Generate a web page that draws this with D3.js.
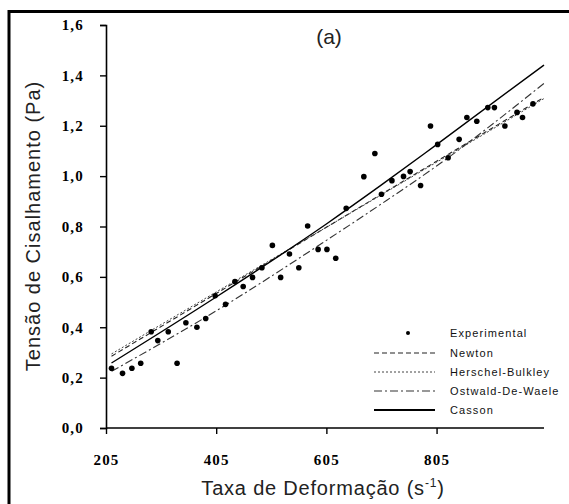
<!DOCTYPE html>
<html>
<head>
<meta charset="utf-8">
<script src="https://cdn.jsdelivr.net/npm/d3@7"></script>
<style>
  html, body { margin: 0; padding: 0; background: #fff; }
  svg { display: block; }
</style>
</head>
<body>
<svg id="chart" width="569" height="504"></svg>
<script>
// ---- data ----
const shearRate = [215,235,252,268,287,299,318,334,350,370,386,403,422,439,454,471,488,507,522,538,555,571,590,606,622,641,673,693,705,724,745,757,776,794,807,826,846,860,878,898,910,929,951,961,980];
const stress    = [0.237,0.217,0.237,0.257,0.382,0.347,0.382,0.257,0.418,0.40,0.435,0.525,0.491,0.581,0.562,0.598,0.636,0.725,0.598,0.691,0.636,0.802,0.709,0.709,0.674,0.872,0.998,1.09,0.928,0.982,0.999,1.018,0.963,1.199,1.126,1.073,1.146,1.233,1.218,1.272,1.272,1.199,1.253,1.233,1.287];

const modelX       = [215, 405, 605, 705, 805, 1000];
const newtonY      = [0.285, 0.534, 0.797, 0.928, 1.059, 1.313];
const herschelY    = [0.294, 0.540, 0.797, 0.926, 1.055, 1.308];
const ostwaldY     = [0.225, 0.465, 0.745, 0.890, 1.040, 1.368];
const cassonY      = [0.258, 0.520, 0.810, 0.965, 1.125, 1.441];

const xTicks = [205, 405, 605, 805];
const yTicks = [0, 0.2, 0.4, 0.6, 0.8, 1.0, 1.2, 1.4, 1.6];
const legendLabels = ["Experimental", "Newton", "Herschel-Bulkley", "Ostwald-De-Waele", "Casson"];

// ---- drawing ----
const svg = d3.select("#chart");
const x = d3.scaleLinear().domain([205, 1000]).range([106, 544]);
const y = d3.scaleLinear().domain([0, 1.6]).range([428, 25]);

// outer frame (left and top edges visible)
svg.append("rect").attr("x", 9).attr("y", 11.5).attr("width", 640).attr("height", 600)
  .attr("fill", "none").attr("stroke", "#000").attr("stroke-width", 3);

const serifBold = "'Liberation Serif', 'Times New Roman', serif";
const sans = "'Liberation Sans', Arial, sans-serif";

// y axis
const yAxis = d3.axisLeft(y).tickValues(yTicks).tickSize(6).tickPadding(16)
  .tickFormat(d => d3.format(".1f")(d).replace(".", ","));
const gy = svg.append("g").attr("transform", "translate(106,0)").call(yAxis);
gy.select(".domain").attr("stroke-width", 1.6);
gy.selectAll(".tick line").attr("stroke-width", 1.4);
gy.selectAll(".tick text").attr("font-family", serifBold).attr("font-weight", "bold")
  .attr("font-size", 15).attr("letter-spacing", 1.2).attr("fill", "#000");

// x axis
const xAxis = d3.axisBottom(x).tickValues(xTicks).tickSize(6).tickPadding(20)
  .tickFormat(d3.format("d"));
const gx = svg.append("g").attr("transform", "translate(0,428)").call(xAxis);
gx.select(".domain").attr("d", `M${x(205)},0H${x(1000)}`).attr("stroke-width", 1.6);
gx.selectAll(".tick line").attr("stroke-width", 1.4);
gx.selectAll(".tick text").attr("font-family", serifBold).attr("font-weight", "bold")
  .attr("font-size", 15).attr("letter-spacing", 1.2).attr("fill", "#000");

// model curves
const line = d3.line().x(d => x(d[0])).y(d => y(d[1])).curve(d3.curveMonotoneX);
const models = [
  { ys: newtonY,   dash: "5,3",       w: 1.1, c: "#222" },
  { ys: herschelY, dash: "2,2",       w: 1.0, c: "#444" },
  { ys: ostwaldY,  dash: "8,3,2,3",   w: 1.1, c: "#333" },
  { ys: cassonY,   dash: null,        w: 1.4, c: "#000" }
];
models.forEach(m => {
  svg.append("path").datum(modelX.map((v, i) => [v, m.ys[i]]))
    .attr("d", line).attr("fill", "none").attr("stroke", m.c)
    .attr("stroke-width", m.w).attr("stroke-dasharray", m.dash);
});

// experimental points
svg.append("g").selectAll("circle").data(shearRate.map((v, i) => [v, stress[i]]))
  .join("circle").attr("cx", d => x(d[0])).attr("cy", d => y(d[1]))
  .attr("r", 2.8).attr("fill", "#000");

// legend
const legY = [333, 353, 372, 391, 410];
const lg = svg.append("g");
lg.append("circle").attr("cx", 408).attr("cy", legY[0]).attr("r", 2).attr("fill", "#000");
models.forEach((m, i) => {
  lg.append("line").attr("x1", 374).attr("x2", 435).attr("y1", legY[i + 1]).attr("y2", legY[i + 1])
    .attr("stroke", m.c).attr("stroke-width", m.w === 1.4 ? 2 : m.w).attr("stroke-dasharray", m.dash);
});
legendLabels.forEach((t, i) => {
  lg.append("text").attr("x", 450).attr("y", legY[i]).attr("dy", "0.35em")
    .attr("font-family", sans).attr("font-size", 11).attr("letter-spacing", 1.1)
    .attr("fill", "#111").text(t);
});

// panel label
svg.append("text").attr("x", 329).attr("y", 44).attr("text-anchor", "middle")
  .attr("font-family", sans).attr("font-size", 21).attr("fill", "#222").text("(a)");

// axis titles
svg.append("text").attr("transform", "translate(40,226) rotate(-90)")
  .attr("text-anchor", "middle").attr("font-family", sans).attr("font-size", 20)
  .attr("letter-spacing", 1).attr("fill", "#222").text("Tensão de Cisalhamento (Pa)");

const xt = svg.append("text").attr("x", 323).attr("y", 495).attr("text-anchor", "middle")
  .attr("font-family", sans).attr("font-size", 20).attr("letter-spacing", 0.8).attr("fill", "#222");
xt.append("tspan").text("Taxa de Deformação (s");
xt.append("tspan").attr("font-size", 12).attr("dy", -8).text("-1");
xt.append("tspan").attr("dy", 8).text(")");
</script>
</body>
</html>
